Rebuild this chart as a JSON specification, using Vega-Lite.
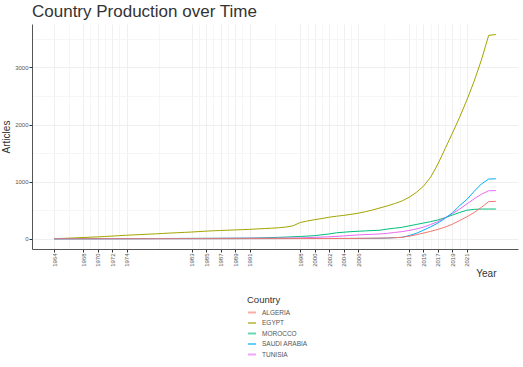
{
  "$schema": "https://vega.github.io/schema/vega-lite/v6.json",
  "width": 486,
  "height": 225,
  "autosize": {"type": "none"},
  "padding": {"left": 32, "top": 24, "right": 5, "bottom": 118},
  "background": "white",
  "title": {"text": "Country Production over Time", "anchor": "start", "frame": "group", "fontSize": 17, "font": "Liberation Sans", "fontWeight": "normal", "color": "#333333", "offset": 3},
  "config": {"view": {"stroke": null}, "font": "Liberation Sans"},
  "data": {"values": [
    {"country": "EGYPT", "year": 1964, "articles": 2}, {"country": "EGYPT", "year": 1965, "articles": 6}, {"country": "EGYPT", "year": 1966, "articles": 11}, {"country": "EGYPT", "year": 1967, "articles": 16}, {"country": "EGYPT", "year": 1968, "articles": 22}, {"country": "EGYPT", "year": 1969, "articles": 28}, {"country": "EGYPT", "year": 1970, "articles": 33}, {"country": "EGYPT", "year": 1971, "articles": 40}, {"country": "EGYPT", "year": 1972, "articles": 47}, {"country": "EGYPT", "year": 1973, "articles": 55}, {"country": "EGYPT", "year": 1974, "articles": 62}, {"country": "EGYPT", "year": 1975, "articles": 68}, {"country": "EGYPT", "year": 1976, "articles": 74}, {"country": "EGYPT", "year": 1977, "articles": 80}, {"country": "EGYPT", "year": 1978, "articles": 86}, {"country": "EGYPT", "year": 1979, "articles": 93}, {"country": "EGYPT", "year": 1980, "articles": 100}, {"country": "EGYPT", "year": 1981, "articles": 106}, {"country": "EGYPT", "year": 1982, "articles": 112}, {"country": "EGYPT", "year": 1983, "articles": 118}, {"country": "EGYPT", "year": 1984, "articles": 126}, {"country": "EGYPT", "year": 1985, "articles": 134}, {"country": "EGYPT", "year": 1986, "articles": 140}, {"country": "EGYPT", "year": 1987, "articles": 145}, {"country": "EGYPT", "year": 1988, "articles": 150}, {"country": "EGYPT", "year": 1989, "articles": 155}, {"country": "EGYPT", "year": 1990, "articles": 160}, {"country": "EGYPT", "year": 1991, "articles": 165}, {"country": "EGYPT", "year": 1992, "articles": 172}, {"country": "EGYPT", "year": 1993, "articles": 178}, {"country": "EGYPT", "year": 1994, "articles": 185}, {"country": "EGYPT", "year": 1995, "articles": 193}, {"country": "EGYPT", "year": 1996, "articles": 205}, {"country": "EGYPT", "year": 1997, "articles": 228}, {"country": "EGYPT", "year": 1998, "articles": 285}, {"country": "EGYPT", "year": 1999, "articles": 312}, {"country": "EGYPT", "year": 2000, "articles": 335}, {"country": "EGYPT", "year": 2001, "articles": 355}, {"country": "EGYPT", "year": 2002, "articles": 378}, {"country": "EGYPT", "year": 2003, "articles": 395}, {"country": "EGYPT", "year": 2004, "articles": 410}, {"country": "EGYPT", "year": 2005, "articles": 428}, {"country": "EGYPT", "year": 2006, "articles": 448}, {"country": "EGYPT", "year": 2007, "articles": 475}, {"country": "EGYPT", "year": 2008, "articles": 505}, {"country": "EGYPT", "year": 2009, "articles": 540}, {"country": "EGYPT", "year": 2010, "articles": 575}, {"country": "EGYPT", "year": 2011, "articles": 615}, {"country": "EGYPT", "year": 2012, "articles": 660}, {"country": "EGYPT", "year": 2013, "articles": 725}, {"country": "EGYPT", "year": 2014, "articles": 810}, {"country": "EGYPT", "year": 2015, "articles": 920}, {"country": "EGYPT", "year": 2016, "articles": 1080}, {"country": "EGYPT", "year": 2017, "articles": 1310}, {"country": "EGYPT", "year": 2018, "articles": 1580}, {"country": "EGYPT", "year": 2019, "articles": 1850}, {"country": "EGYPT", "year": 2020, "articles": 2130}, {"country": "EGYPT", "year": 2021, "articles": 2430}, {"country": "EGYPT", "year": 2022, "articles": 2760}, {"country": "EGYPT", "year": 2023, "articles": 3130}, {"country": "EGYPT", "year": 2024, "articles": 3560}, {"country": "EGYPT", "year": 2025, "articles": 3575},

    {"country": "MOROCCO", "year": 1964, "articles": 0}, {"country": "MOROCCO", "year": 1975, "articles": 3}, {"country": "MOROCCO", "year": 1985, "articles": 8}, {"country": "MOROCCO", "year": 1991, "articles": 12}, {"country": "MOROCCO", "year": 1995, "articles": 25}, {"country": "MOROCCO", "year": 1998, "articles": 40}, {"country": "MOROCCO", "year": 2000, "articles": 55}, {"country": "MOROCCO", "year": 2002, "articles": 85}, {"country": "MOROCCO", "year": 2003, "articles": 105}, {"country": "MOROCCO", "year": 2005, "articles": 125}, {"country": "MOROCCO", "year": 2007, "articles": 138}, {"country": "MOROCCO", "year": 2009, "articles": 150}, {"country": "MOROCCO", "year": 2010, "articles": 170}, {"country": "MOROCCO", "year": 2011, "articles": 185}, {"country": "MOROCCO", "year": 2012, "articles": 200}, {"country": "MOROCCO", "year": 2013, "articles": 225}, {"country": "MOROCCO", "year": 2014, "articles": 250}, {"country": "MOROCCO", "year": 2015, "articles": 275}, {"country": "MOROCCO", "year": 2016, "articles": 300}, {"country": "MOROCCO", "year": 2017, "articles": 330}, {"country": "MOROCCO", "year": 2018, "articles": 370}, {"country": "MOROCCO", "year": 2019, "articles": 415}, {"country": "MOROCCO", "year": 2020, "articles": 460}, {"country": "MOROCCO", "year": 2021, "articles": 500}, {"country": "MOROCCO", "year": 2022, "articles": 515}, {"country": "MOROCCO", "year": 2023, "articles": 520}, {"country": "MOROCCO", "year": 2024, "articles": 520}, {"country": "MOROCCO", "year": 2025, "articles": 521},

    {"country": "TUNISIA", "year": 1964, "articles": 0}, {"country": "TUNISIA", "year": 1975, "articles": 3}, {"country": "TUNISIA", "year": 1985, "articles": 6}, {"country": "TUNISIA", "year": 1991, "articles": 10}, {"country": "TUNISIA", "year": 1995, "articles": 12}, {"country": "TUNISIA", "year": 1998, "articles": 15}, {"country": "TUNISIA", "year": 2000, "articles": 25}, {"country": "TUNISIA", "year": 2002, "articles": 35}, {"country": "TUNISIA", "year": 2004, "articles": 50}, {"country": "TUNISIA", "year": 2006, "articles": 68}, {"country": "TUNISIA", "year": 2008, "articles": 78}, {"country": "TUNISIA", "year": 2009, "articles": 85}, {"country": "TUNISIA", "year": 2010, "articles": 95}, {"country": "TUNISIA", "year": 2011, "articles": 110}, {"country": "TUNISIA", "year": 2012, "articles": 125}, {"country": "TUNISIA", "year": 2013, "articles": 145}, {"country": "TUNISIA", "year": 2014, "articles": 170}, {"country": "TUNISIA", "year": 2015, "articles": 205}, {"country": "TUNISIA", "year": 2016, "articles": 250}, {"country": "TUNISIA", "year": 2017, "articles": 300}, {"country": "TUNISIA", "year": 2018, "articles": 370}, {"country": "TUNISIA", "year": 2019, "articles": 440}, {"country": "TUNISIA", "year": 2020, "articles": 520}, {"country": "TUNISIA", "year": 2021, "articles": 610}, {"country": "TUNISIA", "year": 2022, "articles": 700}, {"country": "TUNISIA", "year": 2023, "articles": 780}, {"country": "TUNISIA", "year": 2024, "articles": 840}, {"country": "TUNISIA", "year": 2025, "articles": 843},

    {"country": "SAUDIARABIA", "year": 1964, "articles": 0}, {"country": "SAUDIARABIA", "year": 1985, "articles": 2}, {"country": "SAUDIARABIA", "year": 1995, "articles": 4}, {"country": "SAUDIARABIA", "year": 2005, "articles": 6}, {"country": "SAUDIARABIA", "year": 2009, "articles": 8}, {"country": "SAUDIARABIA", "year": 2010, "articles": 12}, {"country": "SAUDIARABIA", "year": 2011, "articles": 20}, {"country": "SAUDIARABIA", "year": 2012, "articles": 25}, {"country": "SAUDIARABIA", "year": 2013, "articles": 55}, {"country": "SAUDIARABIA", "year": 2014, "articles": 95}, {"country": "SAUDIARABIA", "year": 2015, "articles": 150}, {"country": "SAUDIARABIA", "year": 2016, "articles": 210}, {"country": "SAUDIARABIA", "year": 2017, "articles": 275}, {"country": "SAUDIARABIA", "year": 2018, "articles": 360}, {"country": "SAUDIARABIA", "year": 2019, "articles": 455}, {"country": "SAUDIARABIA", "year": 2020, "articles": 580}, {"country": "SAUDIARABIA", "year": 2021, "articles": 690}, {"country": "SAUDIARABIA", "year": 2022, "articles": 830}, {"country": "SAUDIARABIA", "year": 2023, "articles": 960}, {"country": "SAUDIARABIA", "year": 2024, "articles": 1045}, {"country": "SAUDIARABIA", "year": 2025, "articles": 1050},

    {"country": "ALGERIA", "year": 1964, "articles": 0}, {"country": "ALGERIA", "year": 1990, "articles": 2}, {"country": "ALGERIA", "year": 2000, "articles": 4}, {"country": "ALGERIA", "year": 2005, "articles": 6}, {"country": "ALGERIA", "year": 2008, "articles": 10}, {"country": "ALGERIA", "year": 2010, "articles": 14}, {"country": "ALGERIA", "year": 2011, "articles": 18}, {"country": "ALGERIA", "year": 2012, "articles": 25}, {"country": "ALGERIA", "year": 2013, "articles": 45}, {"country": "ALGERIA", "year": 2014, "articles": 70}, {"country": "ALGERIA", "year": 2015, "articles": 100}, {"country": "ALGERIA", "year": 2016, "articles": 130}, {"country": "ALGERIA", "year": 2017, "articles": 165}, {"country": "ALGERIA", "year": 2018, "articles": 205}, {"country": "ALGERIA", "year": 2019, "articles": 255}, {"country": "ALGERIA", "year": 2020, "articles": 320}, {"country": "ALGERIA", "year": 2021, "articles": 385}, {"country": "ALGERIA", "year": 2022, "articles": 460}, {"country": "ALGERIA", "year": 2023, "articles": 550}, {"country": "ALGERIA", "year": 2024, "articles": 650}, {"country": "ALGERIA", "year": 2025, "articles": 655}
  ]},
  "mark": {"type": "line", "strokeWidth": 1, "clip": true},
  "encoding": {
    "x": {
      "field": "year", "type": "quantitative",
      "scale": {"domain": [1960.95, 2028.05], "nice": false, "zero": false},
      "axis": {
        "title": "Year", "titleFontSize": 10, "titleFontWeight": "normal", "titleColor": "#333333",
        "titleAnchor": "end", "titleAlign": "right", "titleX": 464, "titleY": 24, "titleBaseline": "middle",
        "values": [1964, 1966, 1968, 1969, 1970, 1971, 1972, 1973, 1974, 1978.5, 1983, 1984, 1985, 1986, 1987, 1988, 1989, 1990, 1991, 1994.5, 1998, 1999, 2000, 2001, 2002, 2003, 2004, 2005, 2006, 2009.5, 2013, 2014, 2015, 2016, 2017, 2018, 2019, 2020, 2021],
        "format": "d",
        "labelExpr": "indexof([1964,1968,1970,1972,1974,1983,1985,1987,1989,1991,1998,2000,2002,2004,2006,2013,2015,2017,2019,2021], datum.value) >= 0 ? datum.label : ''",
        "labelAngle": 270, "labelFontSize": 6, "labelColor": "#555555", "labelPadding": 1,
        "labelOverlap": false, "labelFlush": false, "labelBound": false,
        "tickSize": 3, "tickColor": "#333333",
        "tickOpacity": {"condition": {"test": "indexof([1964,1968,1970,1972,1974,1983,1985,1987,1989,1991,1998,2000,2002,2004,2006,2013,2015,2017,2019,2021], datum.value) >= 0", "value": 1}, "value": 0},
        "grid": true,
        "gridColor": {"condition": {"test": "indexof([1964,1968,1970,1972,1974,1983,1985,1987,1989,1991,1998,2000,2002,2004,2006,2013,2015,2017,2019,2021], datum.value) >= 0", "value": "#ebebeb"}, "value": "#f4f4f4"},
        "gridWidth": 0.8,
        "domainColor": "#555555", "domainWidth": 1
      }
    },
    "y": {
      "field": "articles", "type": "quantitative",
      "scale": {"domain": [-179, 3759], "nice": false, "zero": false},
      "axis": {
        "title": "Articles", "titleFontSize": 10, "titleFontWeight": "normal", "titleColor": "#333333", "titlePadding": 3,
        "values": [0, 500, 1000, 1500, 2000, 2500, 3000, 3500],
        "format": "d",
        "labelExpr": "datum.value % 1000 == 0 ? datum.label : ''",
        "labelFontSize": 6, "labelColor": "#555555", "labelPadding": 1,
        "tickSize": 3, "tickColor": "#333333",
        "tickOpacity": {"condition": {"test": "datum.value % 1000 == 0", "value": 1}, "value": 0},
        "grid": true,
        "gridColor": {"condition": {"test": "datum.value % 1000 == 0", "value": "#ebebeb"}, "value": "#f4f4f4"},
        "gridWidth": 0.8,
        "domainColor": "#555555", "domainWidth": 1
      }
    },
    "color": {
      "field": "country", "type": "nominal",
      "scale": {"domain": ["ALGERIA", "EGYPT", "MOROCCO", "SAUDIARABIA", "TUNISIA"], "range": ["#F8766D", "#A3A500", "#00BF7D", "#00B0F6", "#E76BF3"]},
      "legend": {
        "title": "Country", "orient": "none", "legendX": 215, "legendY": 271, "direction": "vertical", "padding": 0,
        "titleFontSize": 9.5, "titleFontWeight": "normal", "titleColor": "#333333", "titlePadding": 3,
        "labelExpr": "datum.label == 'SAUDIARABIA' ? 'SAUDI ARABIA' : datum.label",
        "labelFontSize": 6.5, "labelColor": "#555555", "labelOffset": 5,
        "symbolType": "stroke", "symbolSize": 64, "symbolStrokeWidth": 2, "symbolOpacity": 0.6, "rowPadding": 1.5
      }
    }
  }
}
